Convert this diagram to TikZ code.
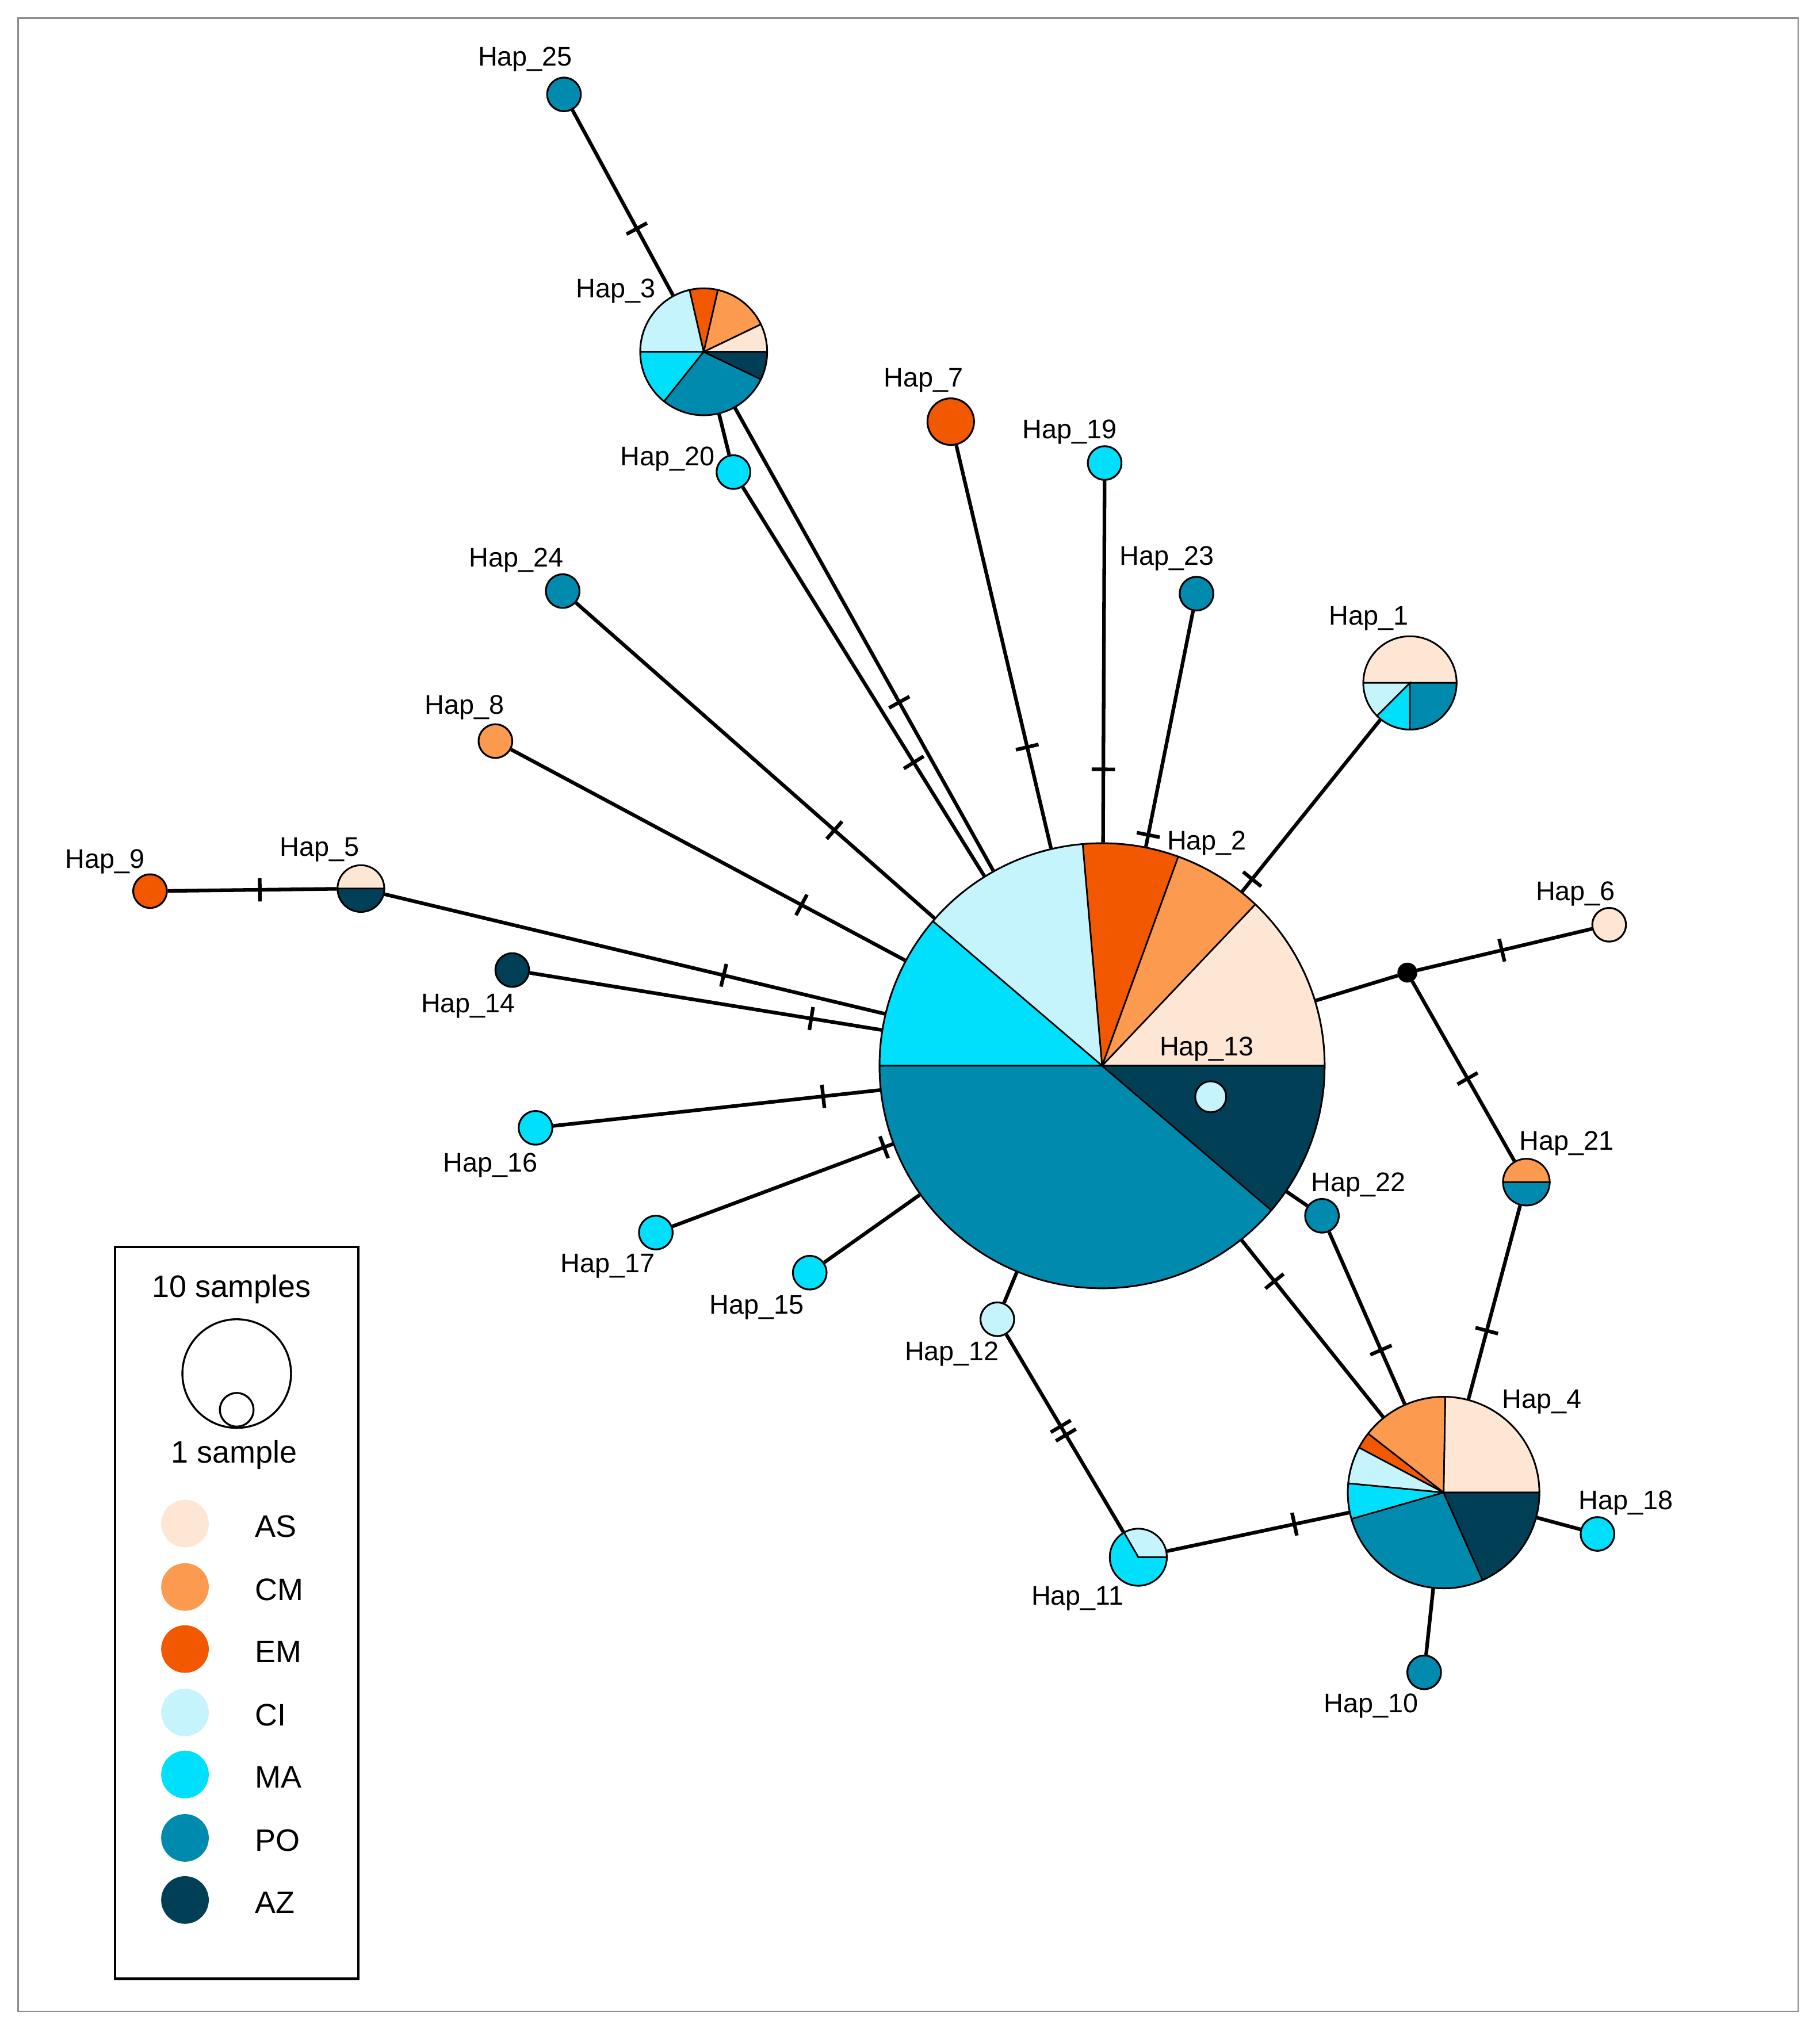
\documentclass[tikz,border=0pt]{standalone}
\usepackage{fontspec}
\setmainfont{Liberation Sans}

\definecolor{as}{HTML}{FEE6D5}
\definecolor{cm}{HTML}{FC9A4F}
\definecolor{em}{HTML}{F25800}
\definecolor{ci}{HTML}{C6F4FC}
\definecolor{ma}{HTML}{00E0FC}
\definecolor{po}{HTML}{008BAE}
\definecolor{az}{HTML}{003F55}

\tikzset{
  hap/.style={circle, draw, line width=0.7pt, inner sep=0pt},
  link/.style={line width=1.4pt},
  mut/.style={sloped, fill=black, inner sep=0pt, minimum width=1.4pt, minimum height=9pt},
  piece/.style={draw=black, line width=0.6pt},
  lab/.style={font=\fontsize{10.4}{12}\selectfont, inner sep=0pt, yshift=-1pt},
  key/.style={font=\fontsize{12}{14}\selectfont, inner sep=0pt, yshift=-1pt},
}

\begin{document}
\begin{tikzpicture}[x=0.5pt, y=-0.5pt]
    \useasboundingbox (0,0) rectangle (1407,1568);
    \draw[black!45, line width=0.5pt] (14,14) rectangle (1390,1555);

    % haplotypes
    \node[hap, minimum size=172pt] (hap 2) at (852,824) {};
    \node[hap, minimum size=49pt] (hap 3) at (544,272) {};
    \node[hap, minimum size=74pt] (hap 4) at (1116,1154) {};
    \node[hap, minimum size=36pt] (hap 1) at (1090,528) {};
    \node[hap, minimum size=22pt] (hap 11) at (880,1204) {};
    \node[hap, minimum size=18pt] (hap 5) at (279,687) {};
    \node[hap, minimum size=18pt] (hap 21) at (1180,914) {};
    \node[hap, fill=po, minimum size=13pt] (hap 25) at (436,73) {};
    \node[hap, fill=ma, minimum size=13pt] (hap 20) at (567,365) {};
    \node[hap, fill=em, minimum size=18pt] (hap 7) at (735,326) {};
    \node[hap, fill=ma, minimum size=13pt] (hap 19) at (854,358) {};
    \node[hap, fill=po, minimum size=13pt] (hap 23) at (925,459) {};
    \node[hap, fill=po, minimum size=13pt] (hap 24) at (435,457) {};
    \node[hap, fill=cm, minimum size=13pt] (hap 8) at (383,573) {};
    \node[hap, fill=em, minimum size=13pt] (hap 9) at (116,689) {};
    \node[hap, fill=az, minimum size=13pt] (hap 14) at (396,750) {};
    \node[hap, fill=ma, minimum size=13pt] (hap 16) at (414,872) {};
    \node[hap, fill=ma, minimum size=13pt] (hap 17) at (507,953) {};
    \node[hap, fill=ma, minimum size=13pt] (hap 15) at (626,984) {};
    \node[hap, fill=ci, minimum size=13pt] (hap 12) at (771,1020) {};
    \node[hap, fill=as, minimum size=13pt] (hap 6) at (1244,715) {};
    \node[hap, fill=po, minimum size=13pt] (hap 22) at (1022,940) {};
    \node[hap, fill=ma, minimum size=13pt] (hap 18) at (1235,1186) {};
    \node[hap, fill=po, minimum size=13pt] (hap 10) at (1101,1293) {};
    \node[hap, fill=black, minimum size=7pt] (median) at (1088,752) {};

    % pie slices
    \foreach \s/\e/\c in {0/46.5/as, 46.5/70/cm, 70/95/em, 95/139.5/ci, 139.5/180/ma, 180/319.5/po, 319.5/360/az}
      \filldraw[piece, fill=\c] (hap 2.center) -- ++(\s:86pt) arc[start angle=\s, end angle=\e, radius=86pt] -- cycle;
    \foreach \s/\e/\c in {0/25.7/as, 25.7/77.1/cm, 77.1/102.9/em, 102.9/180/ci, 180/231.4/ma, 231.4/334.3/po, 334.3/360/az}
      \filldraw[piece, fill=\c] (hap 3.center) -- ++(\s:24.5pt) arc[start angle=\s, end angle=\e, radius=24.5pt] -- cycle;
    \foreach \s/\e/\c in {0/89/as, 89/142/cm, 142/152/em, 152/174.5/ci, 174.5/196/ma, 196/294/po, 294/360/az}
      \filldraw[piece, fill=\c] (hap 4.center) -- ++(\s:37pt) arc[start angle=\s, end angle=\e, radius=37pt] -- cycle;
    \foreach \s/\e/\c in {0/180/as, 180/225/ci, 225/270/ma, 270/360/po}
      \filldraw[piece, fill=\c] (hap 1.center) -- ++(\s:18pt) arc[start angle=\s, end angle=\e, radius=18pt] -- cycle;
    \foreach \s/\e/\c in {0/120/ci, 120/360/ma}
      \filldraw[piece, fill=\c] (hap 11.center) -- ++(\s:11pt) arc[start angle=\s, end angle=\e, radius=11pt] -- cycle;
    \foreach \s/\e/\c in {0/180/as, 180/360/az}
      \filldraw[piece, fill=\c] (hap 5.center) -- ++(\s:9pt) arc[start angle=\s, end angle=\e, radius=9pt] -- cycle;
    \foreach \s/\e/\c in {0/180/cm, 180/360/po}
      \filldraw[piece, fill=\c] (hap 21.center) -- ++(\s:9pt) arc[start angle=\s, end angle=\e, radius=9pt] -- cycle;
    \node[hap, fill=ci, minimum size=12pt] (hap 13) at (936,848) {};

    % links with mutation steps
    \draw[link] (hap 25) -- node[mut, pos=0.64] {} (hap 3);
    \draw[link] (hap 3) -- (hap 20);
    \draw[link] (hap 3) -- node[mut, pos=0.636] {} (hap 2);
    \draw[link] (hap 20) -- node[mut, pos=0.708] {} (hap 2);
    \draw[link] (hap 7) -- node[mut, pos=0.749] {} (hap 2);
    \draw[link] (hap 19) -- node[mut, pos=0.798] {} (hap 2);
    \draw[link] (hap 23) -- node[mut, pos=0.95] {} (hap 2);
    \draw[link] (hap 1) -- node[mut, pos=0.927] {} (hap 2);
    \draw[link] (hap 24) -- node[mut, pos=0.721] {} (hap 2);
    \draw[link] (hap 8) -- node[mut, pos=0.737] {} (hap 2);
    \draw[link] (hap 5) -- node[mut, pos=0.678] {} (hap 2);
    \draw[link] (hap 9) -- node[mut, pos=0.545] {} (hap 5);
    \draw[link] (hap 14) -- node[mut, pos=0.80] {} (hap 2);
    \draw[link] (hap 16) -- node[mut, pos=0.826] {} (hap 2);
    \draw[link] (hap 17) -- node[mut, pos=0.96] {} (hap 2);
    \draw[link] (hap 15) -- (hap 2);
    \draw[link] (hap 12) -- (hap 2);
    \draw[link] (hap 12) -- node[mut, pos=0.465] {} node[mut, pos=0.509] {} (hap 11);
    \draw[link] (hap 11) -- node[mut, pos=0.70] {} (hap 4);
    \draw[link] (hap 2) -- node[mut, pos=0.232] {} (hap 4);
    \draw[link] (hap 22) -- node[mut, pos=0.686] {} (hap 4);
    \draw[link] (hap 2) -- (hap 22);
    \draw[link] (hap 2) -- (median);
    \draw[link] (median) -- node[mut, pos=0.485] {} (hap 6);
    \draw[link] (median) -- node[mut, pos=0.541] {} (hap 21);
    \draw[link] (hap 21) -- node[mut, pos=0.646] {} (hap 4);
    \draw[link] (hap 4) -- (hap 18);
    \draw[link] (hap 4) -- (hap 10);

    % labels
    \node[lab] (hap 25 label) at (406,44) {Hap\_25};
    \node[lab] (hap 3 label) at (476,223) {Hap\_3};
    \node[lab] (hap 20 label) at (516,353) {Hap\_20};
    \node[lab] (hap 7 label) at (714,292) {Hap\_7};
    \node[lab] (hap 19 label) at (827,332) {Hap\_19};
    \node[lab] (hap 23 label) at (902,430) {Hap\_23};
    \node[lab] (hap 1 label) at (1058,476) {Hap\_1};
    \node[lab] (hap 24 label) at (399,431) {Hap\_24};
    \node[lab] (hap 8 label) at (359,545) {Hap\_8};
    \node[lab] (hap 9 label) at (81,664) {Hap\_9};
    \node[lab] (hap 5 label) at (247,655) {Hap\_5};
    \node[lab] (hap 14 label) at (362,776) {Hap\_14};
    \node[lab] (hap 16 label) at (379,899) {Hap\_16};
    \node[lab] (hap 17 label) at (470,977) {Hap\_17};
    \node[lab] (hap 15 label) at (585,1009) {Hap\_15};
    \node[lab] (hap 12 label) at (736,1045) {Hap\_12};
    \node[lab] (hap 13 label) at (933,809) {Hap\_13};
    \node[lab] (hap 2 label) at (933,650) {Hap\_2};
    \node[lab] (hap 6 label) at (1218,689) {Hap\_6};
    \node[lab] (hap 21 label) at (1211,882) {Hap\_21};
    \node[lab] (hap 22 label) at (1050,914) {Hap\_22};
    \node[lab] (hap 4 label) at (1192,1082) {Hap\_4};
    \node[lab] (hap 18 label) at (1257,1160) {Hap\_18};
    \node[lab] (hap 10 label) at (1060,1317) {Hap\_10};
    \node[lab] (hap 11 label) at (833,1234) {Hap\_11};

    % legend
    \draw[line width=1pt] (89,964) rectangle (277,1530);
    \node[key] (ten label) at (179,995) {10 samples};
    \node[hap, line width=0.75pt, minimum size=42pt] (ten samples) at (183,1062) {};
    \node[hap, line width=0.75pt, minimum size=13pt] (one sample) at (183,1090) {};
    \node[key] (one label) at (181,1123) {1 sample};
    \foreach \c/\t/\y in {as/AS/1178, cm/CM/1227, em/EM/1275, ci/CI/1324, ma/MA/1372, po/PO/1421, az/AZ/1469} {
      \node[circle, fill=\c, inner sep=0pt, minimum size=18.4pt] (key \c) at (143,\y) {};
      \node[key, anchor=west] (key \c text) at (197,\y) {\t};
    }
\end{tikzpicture}
\end{document}
